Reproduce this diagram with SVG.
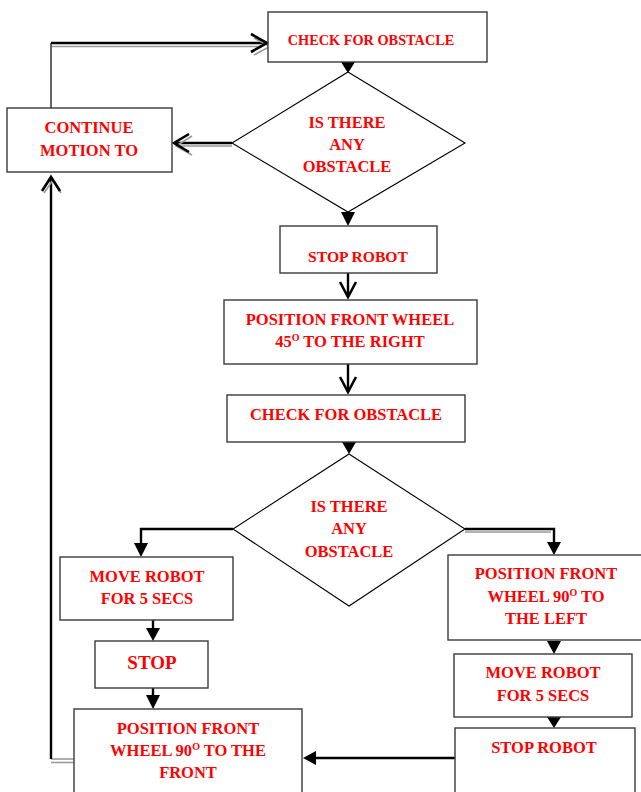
<svg xmlns="http://www.w3.org/2000/svg" width="641" height="792" viewBox="0 0 641 792">
<defs>
<style>
.box{fill:#fff;stroke:#3a3a3a;stroke-width:1.4}
.dia{fill:#fff;stroke:#000;stroke-width:1.1}
.t{font-family:"Liberation Serif","Times New Roman",serif;font-weight:bold;fill:#ff0000;font-size:16.5px;text-anchor:middle}
.sup{font-size:10px}
.ln{fill:none;stroke:#000;stroke-width:2.4}
.thin{fill:none;stroke:#000;stroke-width:1.2}
.sh{fill:none;stroke:#9a9a9a;stroke-width:1.6}
.open{fill:none;stroke:#000;stroke-width:2.6;stroke-linejoin:miter}
.tri{fill:#000}
</style>
</defs>
<rect width="641" height="792" fill="#fff"/>
<g id="connectors">
<!-- CONTINUE top to CHECK box1 -->
<path class="thin" d="M51,108 V43"/>
<path class="sh" d="M52,46.5 H262"/>
<path class="ln" d="M51,43 H266"/>
<path class="sh" d="M254,38 L270,46.5 L254,55"/>
<path class="open" d="M251,34 L267,43 L251,52"/>
<!-- box1 to diamond1 -->
<polygon class="tri" points="341,62 355,62 348,73"/>
<!-- diamond1 to CONTINUE -->
<path class="sh" d="M232,146 H177"/>
<path class="ln" d="M232,143 H175"/>
<path class="sh" d="M192,136 L176,146 L192,155"/>
<path class="open" d="M189,134 L174,143 L189,152"/>
<!-- diamond1 to STOP ROBOT -->
<polygon class="tri" points="341,212 355,212 348,226"/>
<!-- STOP ROBOT to POSITION -->
<path class="ln" d="M348,273 V297"/>
<path class="open" d="M340,282 L348,297 L356,282"/>
<!-- POSITION to CHECK2 -->
<path class="ln" d="M348,364 V392"/>
<path class="open" d="M340,377 L348,392 L356,377"/>
<!-- CHECK2 to diamond2 -->
<polygon class="tri" points="342,442 356,442 349,454"/>
<!-- diamond2 left branch -->
<path class="ln" d="M233,529 H141 V546"/>
<polygon class="tri" points="134,543 148,543 141,557"/>
<!-- diamond2 right branch -->
<path class="sh" d="M465,532 H551"/>
<path class="ln" d="M465,529 H554 V544"/>
<polygon class="tri" points="547,542 561,542 554,555"/>
<!-- MOVE left to STOP -->
<path class="ln" d="M153,620 V630"/>
<polygon class="tri" points="146,628 160,628 153,641"/>
<!-- STOP to POSITION bottom -->
<path class="ln" d="M153,688 V698"/>
<polygon class="tri" points="146,695 160,695 153,709"/>
<!-- right column -->
<polygon class="tri" points="547,641 561,641 554,654"/>
<polygon class="tri" points="547,717 561,717 554,728"/>
<!-- STOP ROBOT right to POSITION bottom -->
<path class="ln" d="M455,758 H314"/>
<polygon class="tri" points="303,758 316,751 316,765"/>
<!-- loop back up on left -->
<path class="sh" d="M51,762.5 H74"/>
<path class="sh" d="M51,759 H74"/>
<path class="ln" d="M51,759 V178"/>
<path class="sh" d="M44,193 L53,180 L61,193"/>
<path class="open" d="M42,191 L51,177 L60,191"/>
</g>
<g id="n1">
<rect class="box" x="268" y="12" width="219" height="50"/>
<text class="t" x="371" y="45" style="font-size:14.3px">CHECK FOR OBSTACLE</text>
</g>
<g id="n2">
<polygon class="dia" points="348,72 465,143 348,212 232,143"/>
<text class="t" x="347" y="128">IS THERE</text>
<text class="t" x="347" y="150">ANY</text>
<text class="t" x="347" y="172">OBSTACLE</text>
</g>
<g id="n3">
<rect class="box" x="7" y="108" width="165" height="64"/>
<text class="t" x="89" y="133">CONTINUE</text>
<text class="t" x="89" y="156">MOTION TO</text>
</g>
<g id="n4">
<rect class="box" x="280" y="226" width="157" height="47"/>
<text class="t" x="358" y="262" style="font-size:15.6px">STOP ROBOT</text>
</g>
<g id="n5">
<rect class="box" x="224" y="300" width="253" height="64"/>
<text class="t" x="350" y="325">POSITION FRONT WHEEL</text>
<text class="t" x="350" y="347">45<tspan class="sup" dy="-6">O</tspan><tspan dy="6"> TO THE RIGHT</tspan></text>
</g>
<g id="n6">
<rect class="box" x="227" y="395" width="238" height="47"/>
<text class="t" x="346" y="420">CHECK FOR OBSTACLE</text>
</g>
<g id="n7">
<polygon class="dia" points="349,454 465,529 349,606 233,529"/>
<text class="t" x="349" y="512">IS THERE</text>
<text class="t" x="349" y="534">ANY</text>
<text class="t" x="349" y="557">OBSTACLE</text>
</g>
<g id="n8">
<rect class="box" x="60" y="557" width="173" height="63"/>
<text class="t" x="147" y="582">MOVE ROBOT</text>
<text class="t" x="147" y="604">FOR 5 SECS</text>
</g>
<g id="n9">
<rect class="box" x="95" y="641" width="113" height="47"/>
<text class="t" x="152" y="669" style="font-size:19px">STOP</text>
</g>
<g id="n10">
<rect class="box" x="74" y="709" width="228" height="90"/>
<text class="t" x="188" y="734">POSITION FRONT</text>
<text class="t" x="188" y="756">WHEEL 90<tspan class="sup" dy="-6">O</tspan><tspan dy="6"> TO THE</tspan></text>
<text class="t" x="188" y="778">FRONT</text>
</g>
<g id="n11">
<rect class="box" x="448" y="555" width="200" height="85"/>
<text class="t" x="546" y="579">POSITION FRONT</text>
<text class="t" x="546" y="602">WHEEL 90<tspan class="sup" dy="-6">O</tspan><tspan dy="6"> TO</tspan></text>
<text class="t" x="546" y="624">THE LEFT</text>
</g>
<g id="n12">
<rect class="box" x="454" y="654" width="178" height="63"/>
<text class="t" x="543" y="678">MOVE ROBOT</text>
<text class="t" x="543" y="701">FOR 5 SECS</text>
</g>
<g id="n13">
<rect class="box" x="455" y="728" width="180" height="70"/>
<text class="t" x="544" y="753">STOP ROBOT</text>
</g>
</svg>
